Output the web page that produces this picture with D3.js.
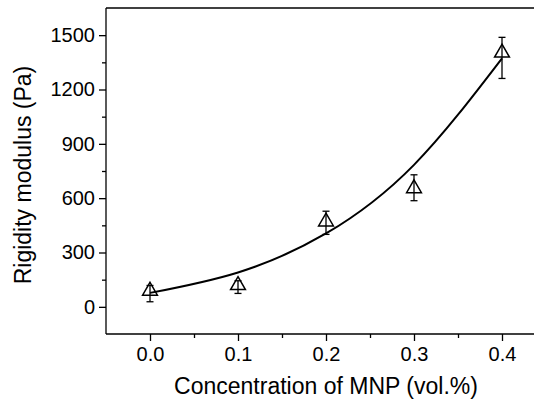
<!DOCTYPE html>
<html>
<head>
<meta charset="utf-8">
<script src="https://cdn.jsdelivr.net/npm/d3@7"></script>
<style>
  html, body { margin: 0; padding: 0; background: #fff; }
  svg { display: block; font-family: "Liberation Sans", Arial, sans-serif; }
</style>
</head>
<body>
<svg id="chart" width="534" height="403"></svg>
<script>
// ---- data ----
const concentration = [0.0, 0.1, 0.2, 0.3, 0.4];
const modulus       = [88, 119, 470, 654, 1403];
const errPlus       = [30, 25, 58, 75, 85];
const errMinus      = [60, 45, 70, 68, 142];
const fitX          = [0.0, 0.1, 0.2, 0.3, 0.4];
const fitY          = [77, 190, 405, 784, 1372];
const xTicks        = [0.0, 0.1, 0.2, 0.3, 0.4];
const yTicks        = [0, 300, 600, 900, 1200, 1500];
const xLabel        = "Concentration of MNP (vol.%)";
const yLabel        = "Rigidity modulus (Pa)";

const svg = d3.select("#chart");
const x = d3.scaleLinear().domain([-0.05, 0.45]).range([106, 546]);
const y = d3.scaleLinear().domain([-150, 1650]).range([334, 8]);

const axisColor = "#000";
const g = svg.append("g");

// frame lines: left, bottom, top
g.append("line").attr("x1", x(-0.05)).attr("x2", x(-0.05)).attr("y1", y(-150)).attr("y2", y(1650))
  .attr("stroke", axisColor).attr("stroke-width", 1.3);
g.append("line").attr("x1", x(-0.05)).attr("x2", x(0.45)).attr("y1", y(-150)).attr("y2", y(-150))
  .attr("stroke", axisColor).attr("stroke-width", 1.3);
g.append("line").attr("x1", x(-0.05)).attr("x2", x(0.45)).attr("y1", y(1650)).attr("y2", y(1650))
  .attr("stroke", axisColor).attr("stroke-width", 1.3);

// X axis
const xMinor = d3.range(-0.05, 0.451, 0.05).map(v => +v.toFixed(2)).filter(v => !xTicks.some(t => Math.abs(t - v) < 1e-6));
const xAxis = d3.axisBottom(x).tickValues(xTicks).tickFormat(d3.format(".1f")).tickSize(7).tickPadding(6);
const gx = svg.append("g").attr("transform", `translate(0,${y(-150)})`).call(xAxis);
gx.select(".domain").remove();
gx.selectAll(".tick line").attr("stroke-width", 1.3);
gx.selectAll(".tick text").attr("font-size", 20).attr("fill", "#000").attr("font-family", "Liberation Sans, Arial, sans-serif");
const gxm = svg.append("g").attr("transform", `translate(0,${y(-150)})`)
  .call(d3.axisBottom(x).tickValues(xMinor.filter(v => v > -0.05 && v < 0.45)).tickSize(4).tickFormat(""));
gxm.select(".domain").remove();
gxm.selectAll(".tick line").attr("stroke-width", 1.3);

// Y axis
const yMinor = d3.range(-150, 1651, 150).filter(v => !yTicks.includes(v) && v > -150 && v < 1650);
const yAxis = d3.axisLeft(y).tickValues(yTicks).tickFormat(d3.format("d")).tickSize(7).tickPadding(4);
const gy = svg.append("g").attr("transform", `translate(${x(-0.05)},0)`).call(yAxis);
gy.select(".domain").remove();
gy.selectAll(".tick line").attr("stroke-width", 1.3);
gy.selectAll(".tick text").attr("font-size", 20).attr("fill", "#000").attr("font-family", "Liberation Sans, Arial, sans-serif");
const gym = svg.append("g").attr("transform", `translate(${x(-0.05)},0)`)
  .call(d3.axisLeft(y).tickValues(yMinor).tickSize(4).tickFormat(""));
gym.select(".domain").remove();
gym.selectAll(".tick line").attr("stroke-width", 1.3);

// axis titles
svg.append("text").attr("x", (x(-0.05) + x(0.45)) / 2).attr("y", 394)
  .attr("text-anchor", "middle").attr("font-size", 23).attr("fill", "#000").text(xLabel);
svg.append("text").attr("transform", `translate(31,175) rotate(-90)`)
  .attr("text-anchor", "middle").attr("font-size", 23).attr("fill", "#000").text(yLabel);

// fit curve
const line = d3.line().x((d, i) => x(fitX[i])).y(d => y(d)).curve(d3.curveNatural);
svg.append("path").attr("d", line(fitY)).attr("fill", "none").attr("stroke", "#000").attr("stroke-width", 2);

// error bars
const eg = svg.append("g").attr("stroke", "#000").attr("stroke-width", 1.3);
concentration.forEach((c, i) => {
  const cx = x(c), top = y(modulus[i] + errPlus[i]), bot = y(modulus[i] - errMinus[i]);
  eg.append("line").attr("x1", cx).attr("x2", cx).attr("y1", top).attr("y2", bot);
  eg.append("line").attr("x1", cx - 3.5).attr("x2", cx + 3.5).attr("y1", top).attr("y2", top);
  eg.append("line").attr("x1", cx - 3.5).attr("x2", cx + 3.5).attr("y1", bot).attr("y2", bot);
});

// open triangle markers
const tri = d3.symbol().type(d3.symbolTriangle).size(95);
svg.append("g").selectAll("path").data(modulus).join("path")
  .attr("d", tri)
  .attr("transform", (d, i) => `translate(${x(concentration[i])},${y(d)})`)
  .attr("fill", "none").attr("stroke", "#000").attr("stroke-width", 1.5);
</script>
</body>
</html>
